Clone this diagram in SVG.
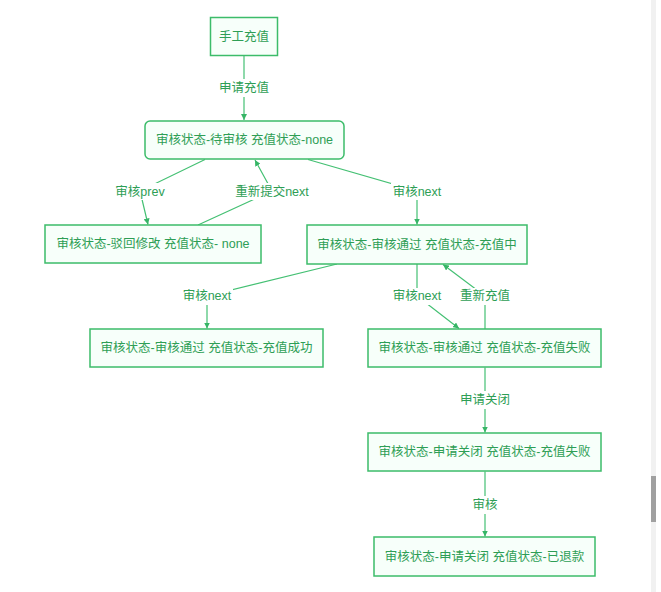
<svg xmlns="http://www.w3.org/2000/svg" width="661" height="592" viewBox="0 0 661 592">
<style>
  .node rect { fill: #f7fffa; stroke: #3cbc6a; stroke-width: 1.5; }
  .node text { font-family: "Liberation Sans", "Noto Sans CJK SC", sans-serif; font-size: 12.5px; fill: #2e9e55; text-anchor: middle; dominant-baseline: central; }
  .edge { fill: none; stroke: #44c073; stroke-width: 1.2; }
  .lbl rect { fill: #ffffff; }
  .lbl text { font-family: "Liberation Sans", "Noto Sans CJK SC", sans-serif; font-size: 12.5px; fill: #2e9e55; text-anchor: middle; dominant-baseline: central; }
</style>
<defs>
  <marker id="arr" markerUnits="userSpaceOnUse" markerWidth="7" markerHeight="6" refX="6" refY="3" orient="auto">
    <path d="M0,0 L6,3 L0,6 z" fill="#36b566"/>
  </marker>
</defs>
<rect x="0" y="0" width="661" height="592" fill="#ffffff"/>
<!-- scrollbar -->
<rect x="651" y="0" width="5" height="592" fill="#f1f1f1"/>
<rect x="651" y="476" width="5" height="46" fill="#a0a0a0"/>

<g id="connectors">
  <path class="edge" d="M244,55.5 L244,120" marker-end="url(#arr)"/>
  <path class="edge" d="M205,159.5 L140,191 L148,224.5" marker-end="url(#arr)"/>
  <path class="edge" d="M198,225 L272,191 L255,160" marker-end="url(#arr)"/>
  <path class="edge" d="M308,159.5 L417,191 L417,224.5" marker-end="url(#arr)"/>
  <path class="edge" d="M337,264 L207,296 L207,328.5" marker-end="url(#arr)"/>
  <path class="edge" d="M417,264 L417,296 L459,328.5" marker-end="url(#arr)"/>
  <path class="edge" d="M485,329 L485,296 L443,264.5" marker-end="url(#arr)"/>
  <path class="edge" d="M485,367.5 L485,432.5" marker-end="url(#arr)"/>
  <path class="edge" d="M485,471.5 L485,536.5" marker-end="url(#arr)"/>

  <g class="lbl"><rect x="218" y="79" width="52" height="18"/><text x="244" y="88">申请充值</text></g>
  <g class="lbl"><rect x="113" y="183" width="54" height="17"/><text x="140" y="191.5">审核prev</text></g>
  <g class="lbl"><rect x="233" y="183" width="78" height="17"/><text x="272" y="191.5">重新提交next</text></g>
  <g class="lbl"><rect x="391" y="183" width="52" height="17"/><text x="417" y="191.5">审核next</text></g>
  <g class="lbl"><rect x="181" y="288" width="52" height="17"/><text x="207" y="296">审核next</text></g>
  <g class="lbl"><rect x="391" y="288" width="52" height="17"/><text x="417" y="296">审核next</text></g>
  <g class="lbl"><rect x="459" y="288" width="52" height="17"/><text x="485" y="296">重新充值</text></g>
  <g class="lbl"><rect x="459" y="391" width="52" height="18"/><text x="485" y="400">申请关闭</text></g>
  <g class="lbl"><rect x="470" y="496" width="30" height="18"/><text x="485" y="504.5">审核</text></g>
</g>

<g id="n1" class="node"><rect x="210.5" y="17.5" width="67" height="38"/><text x="244" y="36.5">手工充值</text></g>
<g id="n2" class="node"><rect x="145" y="121" width="199" height="38" rx="5"/><text x="244.5" y="140">审核状态-待审核 充值状态-none</text></g>
<g id="n3" class="node"><rect x="45" y="225" width="216" height="38"/><text x="153" y="244">审核状态-驳回修改 充值状态- none</text></g>
<g id="n4" class="node"><rect x="307" y="225" width="220" height="39"/><text x="417" y="244.5">审核状态-审核通过 充值状态-充值中</text></g>
<g id="n5" class="node"><rect x="90" y="329" width="233" height="38"/><text x="206.5" y="348">审核状态-审核通过 充值状态-充值成功</text></g>
<g id="n6" class="node"><rect x="368" y="329" width="233" height="38"/><text x="484.5" y="348">审核状态-审核通过 充值状态-充值失败</text></g>
<g id="n7" class="node"><rect x="368" y="433" width="233" height="38"/><text x="484.5" y="452">审核状态-申请关闭 充值状态-充值失败</text></g>
<g id="n8" class="node"><rect x="374" y="537" width="221" height="39"/><text x="484.5" y="556.5">审核状态-申请关闭 充值状态-已退款</text></g>
</svg>
